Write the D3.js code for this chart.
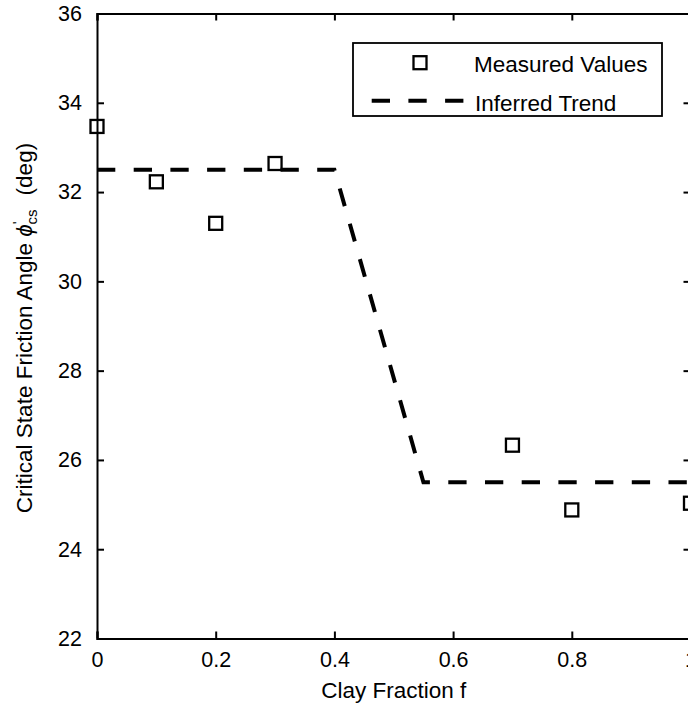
<!DOCTYPE html>
<html>
<head>
<meta charset="utf-8">
<script src="https://cdn.jsdelivr.net/npm/d3@7"></script>
<style>
  html, body { margin: 0; padding: 0; background: #fff; overflow: hidden; }
  svg { display: block; font-family: "Liberation Sans", Arial, Helvetica, sans-serif; }
</style>
</head>
<body>
<svg id="chart" width="688" height="704"></svg>
<script>
// ---- data ----
const measuredX = [0, 0.1, 0.2, 0.3, 0.7, 0.8, 1.0];
const measuredY = [33.47, 32.23, 31.30, 32.64, 26.33, 24.88, 25.03];
const trendX = [0, 0.4, 0.55, 1.0];
const trendY = [32.5, 32.5, 25.5, 25.5];
const xTicks = [0, 0.2, 0.4, 0.6, 0.8, 1];
const xTickLabels = ["0", "0.2", "0.4", "0.6", "0.8", "1"];
const yTicks = [22, 24, 26, 28, 30, 32, 34, 36];
const yTickLabels = ["22", "24", "26", "28", "30", "32", "34", "36"];
const legendLabels = ["Measured Values", "Inferred Trend"];
const xLabel = "Clay Fraction f";

// ---- layout ----
const L = 97, R = 690.5, T = 13.5, B = 638.5;
const svg = d3.select("#chart");
const x = d3.scaleLinear().domain([0, 1]).range([L, R]);
const y = d3.scaleLinear().domain([22, 36]).range([B, T]);
const tickFont = 21.5, labelFont = 22.5;
const dash = "18.3,18.4";

// axes
const axB = d3.axisBottom(x).tickValues(xTicks).tickFormat((d, i) => xTickLabels[i]).tickSize(-7).tickPadding(13);
const axT = d3.axisTop(x).tickValues(xTicks).tickFormat("").tickSize(-7);
const axL = d3.axisLeft(y).tickValues(yTicks).tickFormat((d, i) => yTickLabels[i]).tickSize(-7).tickPadding(15);
const axR = d3.axisRight(y).tickValues(yTicks).tickFormat("").tickSize(-7);

function style(g) {
  g.select(".domain").attr("stroke", "#000").attr("stroke-width", 2);
  g.selectAll(".tick line").attr("stroke", "#000").attr("stroke-width", 2);
  g.selectAll(".tick text").attr("fill", "#000").style("font-size", tickFont + "px")
    .style("font-family", "'Liberation Sans', Arial, sans-serif");
}
svg.append("g").attr("transform", `translate(0,${B})`).call(axB).call(style);
svg.append("g").attr("transform", `translate(0,${T})`).call(axT).call(style);
svg.append("g").attr("transform", `translate(${L},0)`).call(axL).call(style);
svg.append("g").attr("transform", `translate(${R},0)`).call(axR).call(style);

// trend line
const line = d3.line().x(d => x(d[0])).y(d => y(d[1]));
svg.append("path")
  .datum(trendX.map((v, i) => [v, trendY[i]]))
  .attr("d", line)
  .attr("fill", "none").attr("stroke", "#000").attr("stroke-width", 4)
  .attr("stroke-dasharray", dash).attr("stroke-linecap", "butt");

// measured points
const sq = 13;
svg.append("g").selectAll("rect")
  .data(measuredX.map((v, i) => [v, measuredY[i]]))
  .join("rect")
  .attr("x", d => x(d[0]) - sq / 2).attr("y", d => y(d[1]) - sq / 2)
  .attr("width", sq).attr("height", sq)
  .attr("fill", "none").attr("stroke", "#000").attr("stroke-width", 2.3);

// legend
const lg = svg.append("g");
lg.append("rect").attr("x", 353).attr("y", 43).attr("width", 309).attr("height", 73)
  .attr("fill", "#fff").attr("stroke", "#000").attr("stroke-width", 1.8);
lg.append("rect").attr("x", 420 - sq / 2).attr("y", 62.7 - sq / 2).attr("width", sq).attr("height", sq)
  .attr("fill", "none").attr("stroke", "#000").attr("stroke-width", 2.3);
lg.append("line").attr("x1", 371.7).attr("x2", 465).attr("y1", 100.7).attr("y2", 100.7)
  .attr("stroke", "#000").attr("stroke-width", 4).attr("stroke-dasharray", dash);
lg.append("text").attr("x", 474).attr("y", 72).style("font-size", labelFont + "px").text(legendLabels[0]);
lg.append("text").attr("x", 475).attr("y", 110.5).style("font-size", labelFont + "px").text(legendLabels[1]);

// x label
svg.append("text").attr("x", (L + R) / 2).attr("y", 698).attr("text-anchor", "middle")
  .style("font-size", labelFont + "px").text(xLabel);

// y label
const yl = svg.append("text")
  .attr("transform", `translate(31.5,${(T + B) / 2 + 2}) rotate(-90)`)
  .attr("text-anchor", "middle").style("font-size", labelFont + "px");
yl.append("tspan").text("Critical State Friction Angle ");
yl.append("tspan").style("font-style", "italic").text("\u03D5");
yl.append("tspan").attr("dy", -9).style("font-size", "15px").text("'");
yl.append("tspan").attr("dx", -3).attr("dy", 14).style("font-size", "15px").text("cs");
yl.append("tspan").attr("dx", 14).attr("dy", -5).text("(deg)");
</script>
</body>
</html>
